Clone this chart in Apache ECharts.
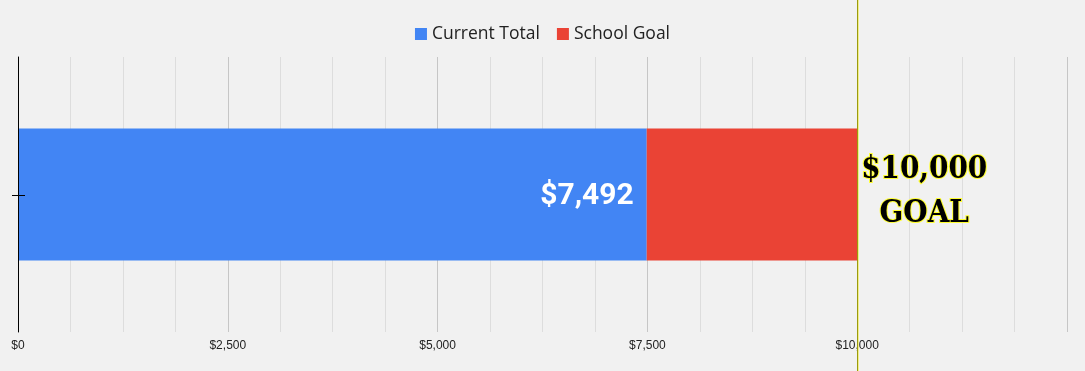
<!DOCTYPE html>
<html>
<head>
<meta charset="utf-8">
<script src="https://cdn.jsdelivr.net/npm/echarts@6/dist/echarts.min.js"></script>
<style>
html,body{margin:0;padding:0;background:#f1f1f1;}
#chart{width:1085px;height:371px;}
</style>
</head>
<body>
<div id="chart"></div>
<script>
const categories = ['Fundraiser'];
const seriesNames = ['Current Total', 'School Goal'];
const currentTotal = [7492];
const schoolGoalRemaining = [2508];
const goalValue = 10000;
const goalLabelLines = ['$10,000', 'GOAL'];
const tickLabels = ['$0', '$2,500', '$5,000', '$7,500', '$10,000'];
const axisMin = 0, axisMax = 12500, axisInterval = 2500;

const fmtMoney = v => '$' + Number(v).toLocaleString('en-US');

const chart = echarts.init(document.getElementById('chart'));
const option = {
  backgroundColor: '#f1f1f1',
  animation: false,
  legend: {
    top: 20,
    left: 'center',
    icon: 'rect',
    itemWidth: 12,
    itemHeight: 12,
    itemGap: 17,
    textStyle: { fontFamily: 'Open Sans', fontSize: 17.5, color: '#222' },
    data: seriesNames
  },
  grid: { left: 18, right: 18, top: 57, bottom: 39 },
  xAxis: {
    type: 'value',
    min: axisMin,
    max: axisMax,
    interval: axisInterval,
    axisLine: { show: false },
    axisTick: { show: false },
    axisLabel: {
      margin: 8,
      fontFamily: 'Liberation Sans',
      fontSize: 12,
      color: '#222',
      formatter: v => { const i = Math.round(v / axisInterval); return tickLabels[i] || ''; }
    },
    splitLine: { show: true, lineStyle: { color: '#c6c6c6', width: 1 } },
    minorTick: { show: false, splitNumber: 4 },
    minorSplitLine: { show: true, lineStyle: { color: '#dddddd', width: 1 } }
  },
  yAxis: {
    type: 'category',
    data: categories,
    z: 10,
    axisLine: { show: true, lineStyle: { color: '#000', width: 1 } },
    axisTick: { show: false },
    axisLabel: { show: false }
  },
  series: [{
    name: seriesNames[0],
    type: 'bar',
    stack: 'total',
    barWidth: '48%',
    data: currentTotal,
    itemStyle: { color: '#4285f4' },
    label: {
      show: true,
      position: 'insideRight',
      distance: 13,
      offset: [0, 2],
      formatter: p => fmtMoney(p.value),
      color: '#fff',
      fontFamily: 'Roboto',
      fontWeight: 'bold',
      fontSize: 30
    }
  }, {
    name: seriesNames[1],
    type: 'bar',
    stack: 'total',
    data: schoolGoalRemaining,
    itemStyle: { color: '#ea4335' },
    label: {
      show: true,
      position: 'right',
      distance: 4,
      offset: [0, -3],
      formatter: () => goalLabelLines.map(s => '{g|' + s + '}').join('\n'),
      rich: {
        g: {
          width: 126,
          align: 'center',
          fontFamily: 'DejaVu Serif Condensed, DejaVu Serif',
          fontWeight: 'bold',
          fontSize: 31,
          lineHeight: 44,
          color: '#000',
          textBorderColor: '#ffff33',
          textBorderWidth: 2
        }
      }
    }
  }]
};
chart.setOption(option);

const gx = Math.round(chart.convertToPixel({ xAxisIndex: 0 }, goalValue)) + 0.5;
const ax = Math.round(chart.convertToPixel({ xAxisIndex: 0 }, axisMin)) + 0.5;
const cy = Math.round(chart.convertToPixel({ yAxisIndex: 0 }, categories[0])) + 0.5;
chart.setOption({
  graphic: [{
    type: 'rect', z: 1000, zlevel: 1,
    shape: { x: ax - 6.5, y: cy - 0.5, width: 13, height: 1 },
    style: { fill: '#000' }
  }, {
    type: 'line', z: 100,
    shape: { x1: gx + 1, y1: 0, x2: gx + 1, y2: 371 },
    style: { stroke: '#f3f08a', lineWidth: 1 }
  }, {
    type: 'line', z: 101,
    shape: { x1: gx, y1: 0, x2: gx, y2: 371 },
    style: { stroke: '#9a9a10', lineWidth: 1 }
  }]
});
</script>
</body>
</html>
